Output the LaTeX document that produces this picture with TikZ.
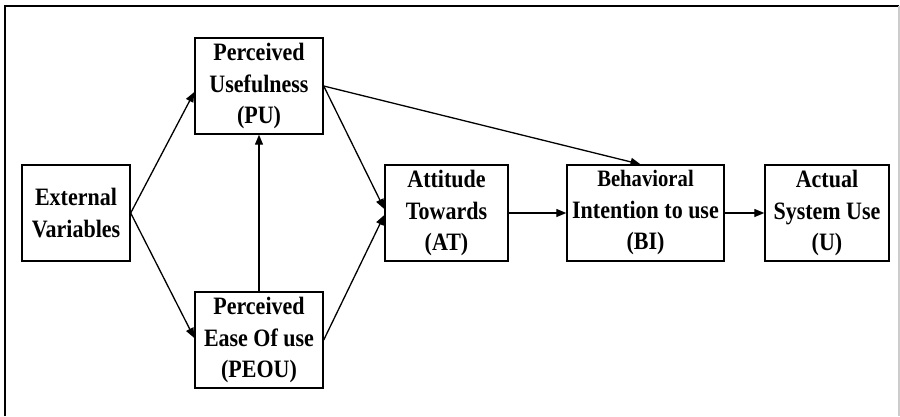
\documentclass[tikz,border=0pt]{standalone}
\usepackage{fontspec}
\setmainfont[FakeStretch=0.88]{Liberation Serif}
\usetikzlibrary{arrows.meta}
\begin{document}
\begin{tikzpicture}[x=1pt,y=-1pt,
  box/.style={draw,line width=1.4pt,rectangle,inner sep=0pt,align=center,
    font=\fontsize{25}{31.5}\selectfont\bfseries},
  arr/.style={line width=1.3pt,-{Triangle[length=10pt,width=8pt]}}]
\useasboundingbox (0,0) rectangle (900,416);
\draw[line width=1.3pt] (5,416) -- (5,6) -- (899,6);
\draw[line width=1.3pt,gray!40] (899,6) -- (899,416);
\node[box,minimum width=128pt,minimum height=96pt] (PU) at (259,86) {Perceived\\Usefulness\\(PU)};
\node[box,minimum width=108pt,minimum height=96pt] (EV) at (76,213) {External\\Variables};
\node[box,minimum width=128pt,minimum height=96pt] (PEOU) at (259,340) {Perceived\\Ease Of use\\(PEOU)};
\node[box,minimum width=123pt,minimum height=96pt] (AT) at (446.5,213) {Attitude\\Towards\\(AT)};
\node[box,minimum width=157pt,minimum height=96pt] (BI) at (645.5,213) {{\fontsize{23.5}{29}\selectfont Behavioral}\\Intention to use\\(BI)};
\node[box,minimum width=124pt,minimum height=96pt] (U) at (827,213) {Actual\\System Use\\(U)};
\draw[arr] (EV.east) -- ([yshift=-6pt]PU.west);
\draw[arr] (EV.east) -- ([yshift=2pt]PEOU.west);
\draw[arr] (PEOU.north) -- (PU.south);
\draw[arr] (PU.east) -- ([yshift=4pt]AT.west);
\draw[arr] (PEOU.east) -- ([yshift=-2pt]AT.west);
\draw[arr] (PU.east) -- ([xshift=-5pt]BI.north);
\draw[arr] (AT.east) -- (BI.west);
\draw[arr] (BI.east) -- (U.west);
\end{tikzpicture}
\end{document}
